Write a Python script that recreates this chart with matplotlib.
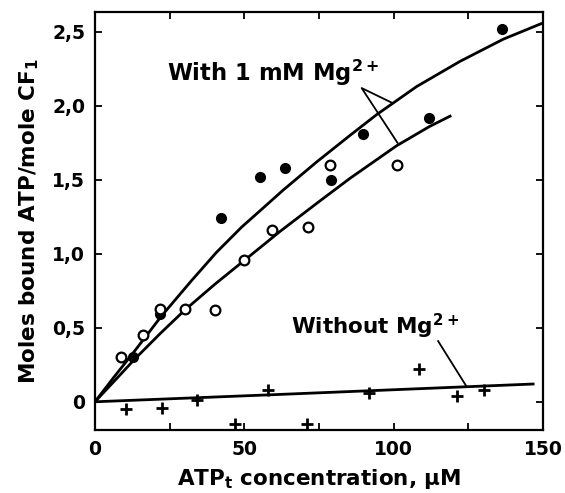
import numpy as np
import matplotlib
matplotlib.use("Agg")
import matplotlib.pyplot as plt

plt.rcParams['font.family'] = ['DejaVu Sans']
plt.rcParams['font.weight'] = 'bold'
plt.rcParams['mathtext.default'] = 'regular'

# filled circles: with 1 mM Mg2+ (upper set)
mg_filled_x = [12.8, 21.8, 42.1, 55.2, 63.8, 78.9, 89.6, 111.8, 136.2]
mg_filled_y = [0.30, 0.59, 1.24, 1.52, 1.58, 1.50, 1.81, 1.92, 2.52]

# open circles: with 1 mM Mg2+ (lower set)
mg_open_x = [8.7, 16.0, 21.8, 30.2, 40.3, 50.0, 59.4, 71.4, 78.6, 101.2]
mg_open_y = [0.30, 0.45, 0.63, 0.63, 0.62, 0.96, 1.16, 1.18, 1.60, 1.60]

# crosses: without Mg2+
nomg_x = [10.3, 22.4, 34.3, 46.8, 57.8, 70.9, 91.6, 108.6, 121.1, 130.2]
nomg_y = [-0.05, -0.04, 0.01, -0.15, 0.08, -0.15, 0.06, 0.22, 0.04, 0.08]

# fitted curves
upper_fit_x = [0, 6.5, 12.8, 22.3, 32.4, 40.7, 49.1, 56.9, 63.0, 74.2, 85.4,
               94.3, 107.7, 122.2, 136.7, 150.0]
upper_fit_y = [0, 0.17, 0.33, 0.58, 0.82, 1.01, 1.18, 1.32, 1.43, 1.62, 1.80,
               1.94, 2.13, 2.30, 2.45, 2.56]
lower_fit_x = [0, 6.5, 13.4, 21.8, 30.1, 40.2, 50.0, 61.9, 74.2, 85.4, 101.0,
               112.0, 118.9]
lower_fit_y = [0, 0.14, 0.29, 0.46, 0.62, 0.795, 0.955, 1.15, 1.34, 1.51, 1.73,
               1.86, 1.93]
nomg_fit_x = [0, 58.6, 146.7]
nomg_fit_y = [0, 0.047, 0.12]

xticks = [0, 50, 100, 150]
xminor = [25, 75, 125]
yticks = [0, 0.5, 1.0, 1.5, 2.0, 2.5]
ytick_labels = ['0', '0,5', '1,0', '1,5', '2,0', '2,5']

fig = plt.figure(figsize=(5.65, 4.93), dpi=100)
ax = fig.add_axes([0.168, 0.128, 0.793, 0.848])

for fx, fy in [(upper_fit_x, upper_fit_y), (lower_fit_x, lower_fit_y),
               (nomg_fit_x, nomg_fit_y)]:
    ax.plot(fx, fy, color='black', lw=2.0, solid_joinstyle='round')

ax.plot(mg_filled_x, mg_filled_y, 'o', color='black', ms=7, zorder=3)
ax.plot(mg_open_x, mg_open_y, 'o', mfc='white', mec='black', mew=1.6, ms=7, zorder=3)
ax.plot(nomg_x, nomg_y, '+', color='black', ms=8, mew=2.0, zorder=3)

# annotation labels and pointer lines
ax.text(24.2, 2.17, 'With 1 mM Mg$^{2+}$', fontsize=16.3, fontweight='bold')
ax.plot([99.5, 89.3, 101.3], [2.02, 2.12, 1.75], color='black', lw=1.3)
ax.text(65.5, 0.46, 'Without Mg$^{2+}$', fontsize=15.5, fontweight='bold')
ax.plot([114.9, 124.2], [0.41, 0.11], color='black', lw=1.3)

ax.set_xlim(0, 150)
ax.set_ylim(-0.19, 2.635)
ax.set_xticks(xticks)
ax.set_xticks(xminor, minor=True)
ax.set_yticks(yticks)
ax.set_yticklabels(ytick_labels)
ax.tick_params(which='both', direction='in', top=True, right=True,
               length=5, width=1.3, labelsize=13.5, pad=7)

for sp in ax.spines.values():
    sp.set_linewidth(1.6)

ax.set_xlabel(r'ATP$_\mathrm{t}$ concentration, μM', fontsize=15.5, fontweight='bold', labelpad=6)
ax.set_ylabel('Moles bound ATP/mole CF$_1$', fontsize=15.5, fontweight='bold', labelpad=8)

fig.savefig('out.png', dpi=100)
